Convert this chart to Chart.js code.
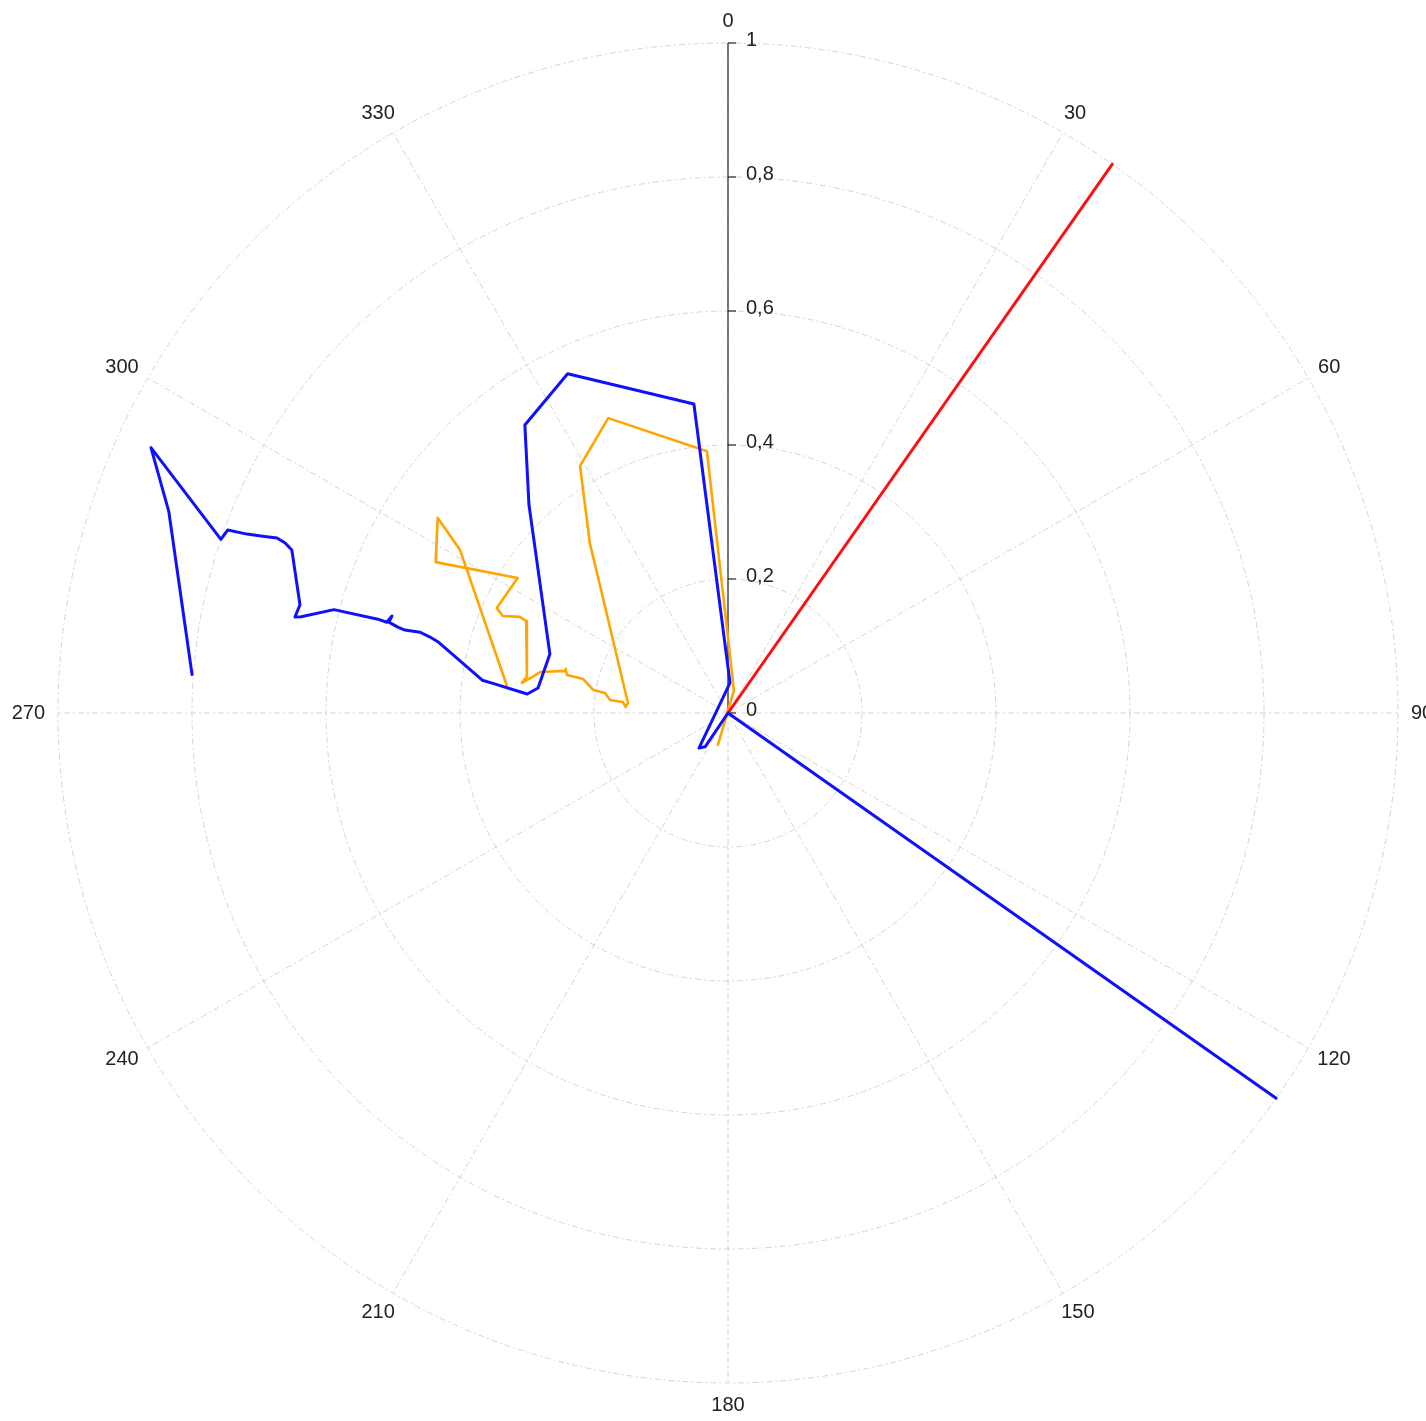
<!DOCTYPE html>
<html>
<head>
<meta charset="utf-8">
<script src="https://cdn.jsdelivr.net/npm/chart.js@4/dist/chart.umd.min.js"></script>
<style>
html,body{margin:0;padding:0;background:#fff;}
#wrap{width:1426px;height:1421px;position:relative;}
</style>
</head>
<body>
<div id="wrap"><canvas id="polar"></canvas></div>
<script>
// polar data: angle in degrees (clockwise from north), radius 0..1
const blueAngle=[274.1,289.8,294.7,288.9,290.1,290.4,290.8,291.2,291.0,290.5,284.2,282.5,282.7,284.7,285.0,284.9,286.1,285.0,284.6,284.4,284.7,284.3,283.8,277.6,277.2,275.4,277.5,288.3,316.3,324.8,334.7,353.7,3.8,219.6,214.1,125,125.1];
const blueR=[0.802,0.887,0.948,0.800,0.795,0.766,0.743,0.722,0.708,0.695,0.659,0.662,0.653,0.608,0.541,0.527,0.522,0.524,0.510,0.498,0.475,0.459,0.446,0.370,0.355,0.301,0.286,0.280,0.430,0.526,0.560,0.464,0.045,0.068,0.061,0,1.0];
const orangeAngle=[277.2,301.3,303.9,297.3,302.7,294.4,293.3,294.8,294.5,280.2,278.3,280.4,282.3,284.5,285.2,283.3,283.2,279.7,279.2,276.3,276.0,273.4,275.7,320.9,329.1,337.9,355.4,14.6,197.4];
const orangeR=[0.333,0.468,0.522,0.491,0.373,0.379,0.366,0.342,0.331,0.305,0.311,0.297,0.287,0.251,0.251,0.247,0.222,0.204,0.186,0.177,0.158,0.153,0.150,0.327,0.430,0.475,0.392,0.035,0.050];
const redAngle=[35,35];
const redR=[0,1];
const ringValues=[0.2,0.4,0.6,0.8,1];
const ringLabels=['0,2','0,4','0,6','0,8','1'];
const spokeAngles=[0,30,60,90,120,150,180,210,240,270,300,330];

function toXY(ang,r){
  return ang.map((a,i)=>{const t=a*Math.PI/180; return {x:r[i]*Math.sin(t),y:r[i]*Math.cos(t)};});
}

const FONT='20px "Liberation Sans", Arial, sans-serif';

// polar grid, angle labels and radial axis
const polarGrid={
  id:'polarGrid',
  beforeDatasetsDraw(chart){
    const c=chart.ctx, xs=chart.scales.x, ys=chart.scales.y;
    const cx=xs.getPixelForValue(0), cy=ys.getPixelForValue(0);
    const R=xs.getPixelForValue(1)-cx;
    c.save();
    c.strokeStyle='#d4d4d4'; c.lineWidth=1; c.setLineDash([6,3,2,3]);
    ringValues.forEach(v=>{c.beginPath(); c.arc(cx,cy,v*R,0,Math.PI*2); c.stroke();});
    spokeAngles.forEach(a=>{const t=a*Math.PI/180; c.beginPath(); c.moveTo(cx,cy); c.lineTo(cx+R*Math.sin(t),cy-R*Math.cos(t)); c.stroke();});
    c.setLineDash([]);
    c.font=FONT; c.fillStyle='#222'; c.textAlign='center'; c.textBaseline='middle';
    spokeAngles.forEach(a=>{
      const t=a*Math.PI/180, txt=String(a), w=c.measureText(txt).width;
      const x=cx+(R+13)*Math.sin(t)+Math.sin(t)*w/2, y=cy-(R+14)*Math.cos(t)-Math.cos(t)*8;
      c.fillText(txt,x,y);
    });
    // radial axis
    c.strokeStyle='#222'; c.lineWidth=1.2;
    c.beginPath(); c.moveTo(cx,cy); c.lineTo(cx,cy-R); c.stroke();
    c.textAlign='left';
    [0].concat(ringValues).forEach((v,i)=>{
      const y=cy-v*R;
      c.beginPath(); c.moveTo(cx,y); c.lineTo(cx+8,y); c.stroke();
      c.fillText(i===0?'0':ringLabels[i-1],cx+18,y-3);
    });
    c.restore();
  }
};

new Chart(document.getElementById('polar'),{
  type:'scatter',
  data:{datasets:[
    {label:'blue',data:toXY(blueAngle,blueR),borderColor:'#1010ff',borderWidth:3,showLine:true,pointRadius:0,fill:false},
    {label:'red',data:toXY(redAngle,redR),borderColor:'#ff1010',borderWidth:3,showLine:true,pointRadius:0,fill:false},
    {label:'orange',data:toXY(orangeAngle,orangeR),borderColor:'#ffa500',borderWidth:2.6,showLine:true,pointRadius:0,fill:false}
  ]},
  options:{
    responsive:true,maintainAspectRatio:false,animation:false,
    layout:{padding:{left:58,right:28,top:43,bottom:38}},
    scales:{x:{type:'linear',min:-1,max:1,display:false},y:{type:'linear',min:-1,max:1,display:false}},
    plugins:{legend:{display:false},tooltip:{enabled:false}},
    elements:{line:{tension:0,borderJoinStyle:'round',borderCapStyle:'round'}}
  },
  plugins:[polarGrid]
});
</script>
</body>
</html>
